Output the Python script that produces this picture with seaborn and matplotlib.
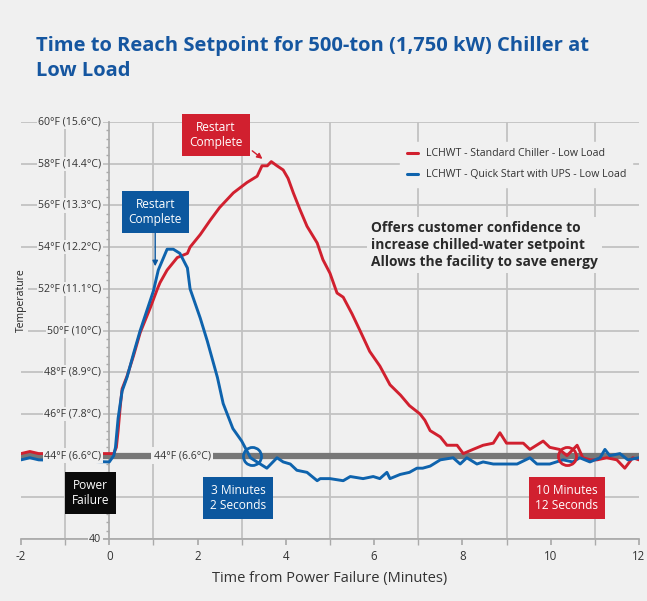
import numpy as np
import pandas as pd
import matplotlib
matplotlib.use("Agg")
import matplotlib.pyplot as plt
import seaborn as sns

# ---------------- data ----------------
std_t = [-2.0, -1.8, -1.6, 0.0, 0.1, 0.16, 0.2, 0.25, 0.29, 0.4, 0.55, 0.7, 0.93, 1.09, 1.15, 1.31, 1.54, 1.77, 1.83,
         2.06, 2.29, 2.5, 2.81, 3.12, 3.35, 3.46, 3.58, 3.67, 3.8, 3.94, 4.05, 4.17, 4.32, 4.48,
         4.71, 4.84, 5.0, 5.16, 5.3, 5.5, 5.68, 5.9, 6.13, 6.36, 6.6, 6.8, 7.04, 7.15, 7.27, 7.5,
         7.65, 7.88, 8.02, 8.24, 8.47, 8.7, 8.85, 9.0, 9.24, 9.38, 9.53, 9.83, 9.98, 10.2,
         10.37, 10.6, 10.73, 10.9, 11.05, 11.27, 11.5, 11.68, 11.86, 12.0]
std_v = [44.1, 44.2, 44.1, 44.1, 44.1, 44.4, 45.2, 46.4, 47.2, 47.8, 48.8, 49.9, 51.1, 52.0, 52.3, 52.9, 53.5, 53.7, 54.0,
         54.6, 55.3, 55.9, 56.6, 57.1, 57.4, 57.9, 57.9, 58.1, 57.9, 57.7, 57.3, 56.6, 55.8, 55.0,
         54.2, 53.4, 52.75, 51.8, 51.6, 50.8, 50.0, 49.0, 48.3, 47.4, 46.9, 46.4, 46.0, 45.7, 45.2, 44.9,
         44.5, 44.5, 44.1, 44.3, 44.5, 44.6, 45.1, 44.6, 44.6, 44.6, 44.3, 44.7, 44.4, 44.3,
         44.0, 44.5, 43.9, 43.8, 43.8, 43.9, 43.8, 43.4, 43.9, 43.8]

ups_t = [-2.0, -1.8, -1.6, 0.0, 0.1, 0.14, 0.2, 0.29, 0.4, 0.55, 0.7, 1.0, 1.11, 1.31, 1.45, 1.6, 1.77, 1.83,
         2.06, 2.22, 2.45, 2.58, 2.8, 3.0, 3.2, 3.42, 3.57, 3.8, 3.94, 4.1, 4.25, 4.48, 4.71,
         4.78, 5.0, 5.3, 5.46, 5.75, 5.98, 6.13, 6.29, 6.36, 6.59, 6.8, 6.97, 7.1, 7.27, 7.5,
         7.79, 7.95, 8.1, 8.33, 8.47, 8.7, 8.92, 9.24, 9.53, 9.69, 9.98, 10.28, 10.5, 10.66,
         10.89, 11.12, 11.23, 11.34, 11.57, 11.75, 12.0]
ups_v = [43.8, 43.9, 43.8, 43.7, 44.0, 44.4, 45.8, 47.1, 47.75, 48.9, 50.0, 51.9, 52.9, 53.9, 53.9, 53.7, 53.0, 52.0,
         50.6, 49.5, 47.75, 46.5, 45.3, 44.7, 43.9, 43.6, 43.4, 43.9, 43.7, 43.6, 43.3, 43.2, 42.8,
         42.9, 42.9, 42.8, 43.0, 42.9, 43.0, 42.9, 43.2, 42.9, 43.1, 43.2, 43.4, 43.4, 43.5, 43.8,
         43.9, 43.6, 43.9, 43.6, 43.7, 43.6, 43.6, 43.6, 43.9, 43.6, 43.6, 43.8, 43.7, 43.9,
         43.7, 43.9, 44.3, 44.0, 44.1, 43.8, 43.9]

series_names = ["LCHWT - Standard Chiller - Low Load", "LCHWT - Quick Start with UPS - Low Load"]
y_ticks = [40, 42, 44, 46, 48, 50, 52, 54, 56, 58, 60]
y_tick_labels = ["40", "", "44°F (6.6°C)", "46°F (7.8°C)", "48°F (8.9°C)", "50°F (10°C)",
                 "52°F (11.1°C)", "54°F (12.2°C)", "56°F (13.3°C)", "58°F (14.4°C)", "60°F (15.6°C)"]
x_ticks = [-2, 0, 2, 4, 6, 8, 10, 12]
setpoint = 44

RED = "#d1202f"
BLUE = "#0e63ad"
BOXBLUE = "#0c579e"
BG = "#f0f0f0"
GRID = "#c2c2c2"

df = pd.concat([
    pd.DataFrame({"t": std_t, "v": std_v, "series": series_names[0]}),
    pd.DataFrame({"t": ups_t, "v": ups_v, "series": series_names[1]}),
])

sns.set_theme(style="white")
plt.rcParams["font.family"] = ["Open Sans", "DejaVu Sans"]

fig = plt.figure(figsize=(6.47, 6.01), dpi=100, facecolor=BG)
ax = fig.add_axes([0.0325, 0.103, 0.955, 0.694])
ax.set_facecolor(BG)

ax.set_xlim(-2, 12)
ax.set_ylim(40, 60)

# grid
ax.set_xticks(x_ticks)
ax.set_xticks(range(-2, 13), minor=True)
ax.set_yticks(y_ticks)
ax.set_yticks(np.arange(40, 60.01, 0.4), minor=True)
ax.grid(True, which="major", axis="y", color=GRID, lw=1.3)
ax.grid(True, which="minor", axis="x", color=GRID, lw=1.3)
ax.set_axisbelow(True)

# setpoint line
ax.axhline(setpoint, color="#777777", lw=4.5, zorder=2)

sns.lineplot(data=df, x="t", y="v", hue="series", palette=[RED, BLUE], lw=2.1,
             ax=ax, zorder=3, legend=True, estimator=None, sort=False)

# spines
for s in ["top", "right"]:
    ax.spines[s].set_visible(False)
ax.spines["left"].set_position(("data", 0))
ax.spines["left"].set_color("#aaaaaa")
ax.spines["bottom"].set_color("#aaaaaa")
ax.spines["left"].set_zorder(1)
ax.set_yticklabels([])
ax.tick_params(axis="y", which="major", length=5, color="#aaaaaa")
ax.tick_params(axis="y", which="minor", length=2.5, color="#aaaaaa", left=True)
ax.tick_params(axis="x", which="both", length=4, color="#aaaaaa", bottom=True, labelsize=8.3,
               labelcolor="#333333")
ax.set_xticklabels([str(v) for v in x_ticks])
for yv, lab in zip(y_ticks, y_tick_labels):
    if lab:
        ax.text(-0.18, yv, lab, ha="right", va="center", fontsize=7.6, color="#333333",
                bbox=dict(facecolor=BG, edgecolor="none", pad=1.2), zorder=6)
ax.set_ylabel("")
ax.set_xlabel("Time from Power Failure (Minutes)", fontsize=10.5, color="#333333", labelpad=6)

# y label
ax.text(-2, 51.45, "Temperature", rotation=90, ha="center", va="center", fontsize=7.5,
        color="#222222", bbox=dict(facecolor=BG, edgecolor="none", pad=1), zorder=6)

# middle setpoint label
ax.text(1.65, setpoint, "44°F (6.6°C)", ha="center", va="center", fontsize=7.6, color="#333333",
        bbox=dict(facecolor=BG, edgecolor="none", pad=2), zorder=6)

# legend
leg = ax.legend(loc="upper right", bbox_to_anchor=(0.998, 0.965), fontsize=7.6, frameon=True,
                facecolor=BG, edgecolor=BG, framealpha=1, handlelength=1.1, handletextpad=0.7,
                labelspacing=0.95, borderpad=0.6)
for h in leg.get_lines():
    h.set_linewidth(2.2)
for tx in leg.get_texts():
    tx.set_color("#333333")

# message text
ax.text(5.93, 55.25, "Offers customer confidence to\nincrease chilled-water setpoint\nAllows the facility to save energy",
        ha="left", va="top", fontsize=9.9, fontweight="bold", color="#2a2a2a", linespacing=1.25,
        bbox=dict(facecolor=BG, edgecolor="none", pad=3), zorder=6)

# boxes
def box(x, y, s, fc):
    ax.text(x, y, s, ha="center", va="center", fontsize=8.6, color="white", linespacing=1.25,
            bbox=dict(facecolor=fc, edgecolor="none", pad=5), zorder=7)

box(2.42, 59.38, "Restart\nComplete", RED)
box(1.04, 55.68, "Restart\nComplete", BOXBLUE)
box(-0.43, 42.22, "Power\nFailure", "#0a0a0a")
box(2.92, 41.98, "3 Minutes\n2 Seconds", BOXBLUE)
box(10.37, 41.98, "10 Minutes\n12 Seconds", RED)

ax.annotate("", xy=(3.52, 58.15), xytext=(3.19, 58.7),
            arrowprops=dict(arrowstyle="-|>", color=RED, lw=1, mutation_scale=8), zorder=7)
ax.annotate("", xy=(1.04, 52.95), xytext=(1.04, 54.85),
            arrowprops=dict(arrowstyle="-|>", color=BOXBLUE, lw=1, mutation_scale=8), zorder=7)

# circles
ax.plot([3.24], [setpoint], marker="o", ms=13, mfc="none", mec=BLUE, mew=2, zorder=8)
ax.plot([10.37], [setpoint], marker="o", ms=13, mfc="none", mec=RED, mew=2, zorder=8)

# title
fig.text(0.056, 0.94, "Time to Reach Setpoint for 500-ton (1,750 kW) Chiller at\nLow Load",
         ha="left", va="top", fontsize=14.5, fontweight="bold", color="#1556a0", linespacing=1.3)

fig.savefig("out.png", dpi=100, facecolor=BG)
